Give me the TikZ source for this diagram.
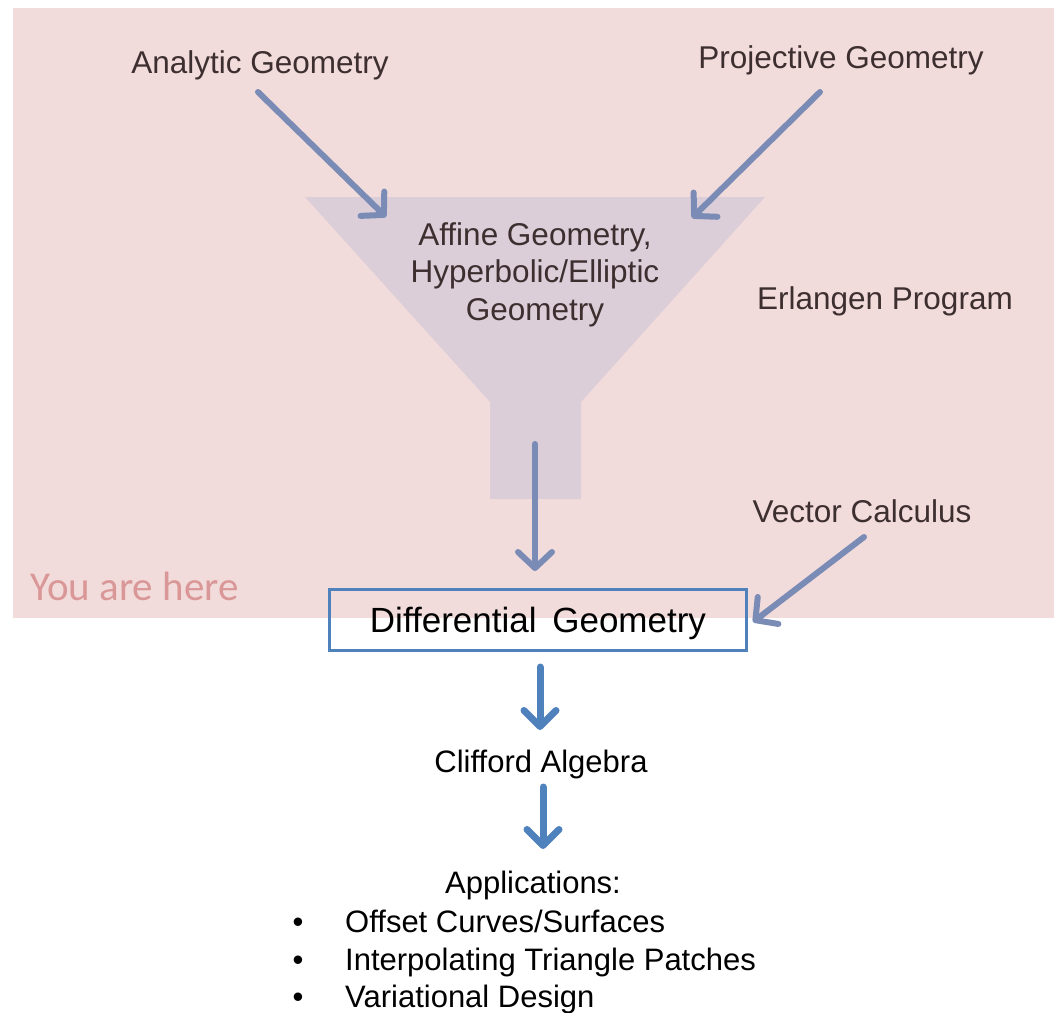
\documentclass[tikz,border=0pt]{standalone}
\usepackage{fontspec}
\setmainfont{Liberation Sans}
\newfontfamily\carlitofont{Carlito}
\usetikzlibrary{arrows.meta}
\definecolor{pinkbg}{HTML}{F2DCDB}
\definecolor{funnelc}{HTML}{DCCED8}
\definecolor{upblue}{HTML}{7A8BB5}
\definecolor{lowblue}{HTML}{4F81BD}
\definecolor{darktxt}{HTML}{3D2F30}
\definecolor{herered}{HTML}{DA9797}
\tikzset{
  lbl/.style={inner sep=0pt, anchor=base, text=darktxt, font=\fontsize{31.5}{37.5}\selectfont},
  lowlbl/.style={inner sep=0pt, anchor=base, text=black, font=\fontsize{31}{38}\selectfont},
  uarrow/.style={draw=upblue, line width=6pt, line cap=round, -{Straight Barb[length=16pt,width=34pt,line cap=round,round]}},
  larrow/.style={draw=lowblue, line width=7pt, line cap=round, -{Straight Barb[length=16pt,width=32pt,line cap=round,round]}},
}
\begin{document}
\begin{tikzpicture}[x=1pt,y=-1pt]
\useasboundingbox (0,0) rectangle (1054,1012);
\fill[pinkbg] (13,8) rectangle (1054,618);
\fill[funnelc] (305,197) -- (765,197) -- (581,402) -- (581,499) -- (490,499) -- (490,402) -- cycle;

\node[lbl] (analytic) at (260,73) {Analytic Geometry};
\node[lbl] (projective) at (841,68) {Projective Geometry};
\node[lbl] (affine1) at (535,245) {Affine Geometry,};
\node[lbl] (affine2) at (535,282) {Hyperbolic/Elliptic};
\node[lbl] (affine3) at (535,320) {Geometry};
\node[lbl] (erlangen) at (885,309) {Erlangen Program};
\node[lbl] (vector) at (862,522) {Vector Calculus};
\node[inner sep=0pt, anchor=base west, text=herered, font=\carlitofont\fontsize{41}{48}\selectfont] (here) at (30,600) {You are here};

\node[draw=lowblue, line width=3pt, minimum width=417pt, minimum height=61pt, inner sep=0pt] (diff) at (537.5,619.5) {};
\node[lbl, text=black, font=\fontsize{35}{40}\selectfont] (difftext) at (538,632) {Differential\hspace{0.45em}Geometry};
\node[lowlbl] (clifford) at (541,772) {Clifford Algebra};
\node[lowlbl] (apps) at (533,893) {Applications:};
\node[lowlbl] (b1) at (298,932) {\textbullet};
\node[lowlbl] (b2) at (298,970) {\textbullet};
\node[lowlbl] (b3) at (298,1007) {\textbullet};
\node[lowlbl, anchor=base west] (app1) at (345,932) {Offset Curves/Surfaces};
\node[lowlbl, anchor=base west] (app2) at (345,970) {Interpolating Triangle Patches};
\node[lowlbl, anchor=base west] (app3) at (345,1007) {Variational Design};

\coordinate (aS) at (258,92);
\coordinate (aE) at (386,217);
\coordinate (pS) at (820,92);
\coordinate (pE) at (692,218);
\coordinate (fS) at (535,444);
\coordinate (fE) at (535,571);
\coordinate (vS) at (864,537);
\coordinate (vE) at (753,622);
\coordinate (dS) at (540,667);
\coordinate (dE) at (540,730);
\coordinate (cS) at (543,787);
\coordinate (cE) at (543,849);

\draw[uarrow] (aS) -- (aE);
\draw[uarrow] (pS) -- (pE);
\draw[uarrow] (fS) -- (fE);
\draw[uarrow] (vS) -- (vE);
\draw[larrow] (dS) -- (dE);
\draw[larrow] (cS) -- (cE);
\end{tikzpicture}
\end{document}
